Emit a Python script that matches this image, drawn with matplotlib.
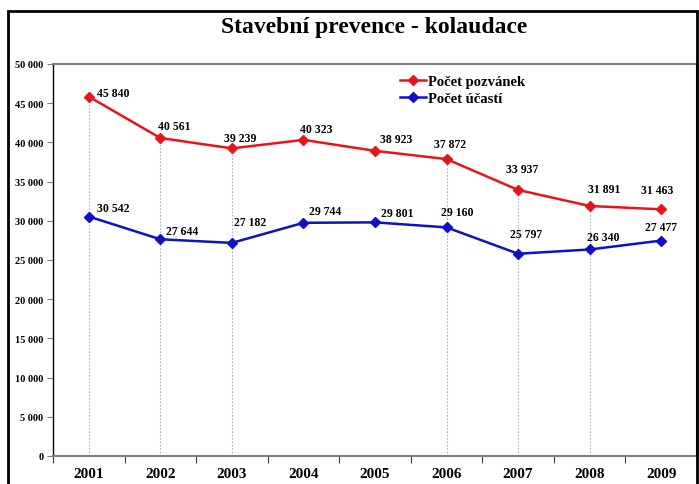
import matplotlib
matplotlib.use("Agg")
import matplotlib.pyplot as plt
from matplotlib.patches import Rectangle
from matplotlib.ticker import FuncFormatter, FixedLocator

years = ["2001", "2002", "2003", "2004", "2005", "2006", "2007", "2008", "2009"]
pozvanek = [45840, 40561, 39239, 40323, 38923, 37872, 33937, 31891, 31463]
ucasti = [30542, 27644, 27182, 29744, 29801, 29160, 25797, 26340, 27477]
series_names = ["Počet pozvánek", "Počet účastí"]
title = "Stavební prevence - kolaudace"
yticks = [0, 5000, 10000, 15000, 20000, 25000, 30000, 35000, 40000, 45000, 50000]
drop_years = ["2001", "2002", "2003", "2006", "2007", "2008"]

# label offsets in pixels (dx to left edge of text, dy upward to text centre)
red_off = [(8, 4), (-2, 12), (-8, 10), (-3, 11), (5, 12), (-13, 15), (-12, 21), (-2, 17), (-20, 19)]
blue_off = [(8, 9), (6, 8), (2, 21), (6, 12), (6, 9), (-6, 15), (-8, 20), (-3, 12), (-16, 14)]

W, H = 699, 485
fig = plt.figure(figsize=(W / 100, H / 100), dpi=100)
ax = fig.add_axes([53 / W, 1 - 457 / H, (697 - 53) / W, (457 - 65) / H])

serif = "Liberation Serif"
red = "#e8141c"
blue = "#1010c8"

x = list(range(len(years)))
# drop lines
for i, yr in enumerate(years):
    if yr in drop_years:
        top = max(pozvanek[i], ucasti[i])
        ax.plot([i, i], [0, top], color="#b0b0b0", lw=0.8, ls=(0, (1.5, 1.5)), zorder=1)

ax.plot(x, pozvanek, color=red, lw=1.8, marker="D", ms=5.5, label=series_names[0], zorder=3)
ax.plot(x, ucasti, color=blue, lw=1.8, marker="D", ms=5.5, label=series_names[1], zorder=3)

def fmt(v):
    return f"{int(v):,}".replace(",", " ")

for vals, offs in ((pozvanek, red_off), (ucasti, blue_off)):
    for i, v in enumerate(vals):
        ax.annotate(fmt(v), (i, v), xytext=offs[i], textcoords="offset pixels",
                    ha="left", va="center", fontsize=8.5, fontweight="bold",
                    family=serif, color="black", zorder=4)

ax.set_xlim(-0.5, len(years) - 0.5)
ax.set_ylim(0, 50000)
ax.set_yticks(yticks)
ax.yaxis.set_major_formatter(FuncFormatter(lambda v, p: fmt(v)))
for lab in ax.get_yticklabels():
    lab.set_family(serif)
    lab.set_fontweight("bold")
    lab.set_fontsize(7.5)
ax.tick_params(axis="y", direction="out", length=4, width=0.8, color="#808080", pad=3)

ax.xaxis.set_major_locator(FixedLocator([i - 0.5 for i in range(len(years) + 1)]))
ax.xaxis.set_major_formatter(FuncFormatter(lambda v, p: ""))
ax.xaxis.set_minor_locator(FixedLocator(x))
ax.set_xticklabels(years, minor=True)
ax.tick_params(axis="x", which="major", direction="out", length=5, width=0.8, color="#404040")
ax.tick_params(axis="x", which="minor", length=0, pad=8)
for lab in ax.get_xticklabels(minor=True):
    lab.set_family(serif)
    lab.set_fontweight("bold")
    lab.set_fontsize(11)

ax.spines["top"].set_color("#808080")
ax.spines["top"].set_linewidth(1.5)
ax.spines["bottom"].set_color("#808080")
ax.spines["bottom"].set_linewidth(1.5)
ax.spines["left"].set_color("black")
ax.spines["left"].set_linewidth(1.0)
ax.spines["right"].set_color("black")
ax.spines["right"].set_linewidth(1.5)

leg = ax.legend(loc="upper left", bbox_to_anchor=(400 / W, 1 - 76 / H), bbox_transform=fig.transFigure,
                frameon=False, prop={"family": serif, "weight": "bold", "size": 10.5},
                handlelength=1.8, handletextpad=0.15, labelspacing=0.25, borderpad=0, borderaxespad=0)

fig.text(374 / W, 1 - 28 / H, title, ha="center", va="center", family=serif,
         fontweight="bold", fontsize=17)

fig.patches.append(Rectangle((8 / W, -0.05), (697 - 8) / W, 1.05 - 12 / H, transform=fig.transFigure,
                             fill=False, edgecolor="black", lw=2))

fig.savefig("out.png", dpi=100)
